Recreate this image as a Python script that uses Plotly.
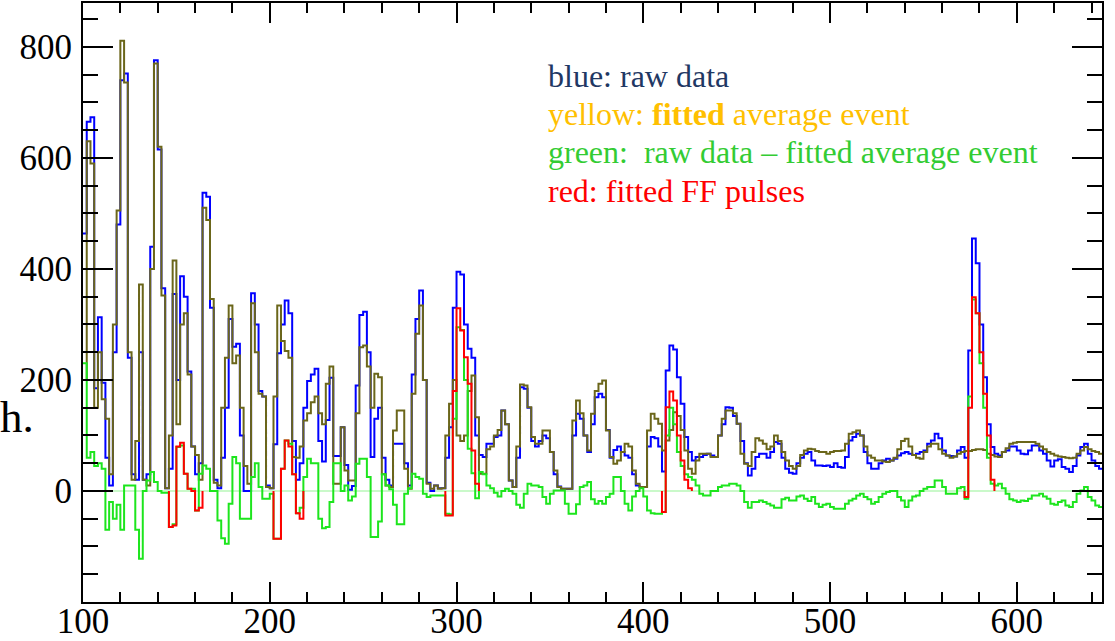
import plotly.graph_objects as go

# ---------------- data (histogram bins, width 2, starting at 100) ----------------
BIN_START = 100
BIN_WIDTH = 2

raw_blue = [
    464, 665, 673, 185, 313, 195, 60, 10, 250, 480,
    740, 752, 240, 30, 20, 250, 20, 30, 440, 776,
    615, 365, 5, 40, 355, 200, 387, 350, 215, 80,
    30, 50, 537, 530, 330, 20, 5, 60, 150, 310,
    260, 265, 100, 0, 0, 356, 300, 180, 170, 10,
    5, 84, 248, 300, 343, 320, 90, 20, 50, 150,
    198, 210, 220, 90, 53, 128, 204, 63, 63, 115,
    47, 2, 9, 190, 317, 323, 250, 61, 130, 150,
    60, 20, 10, 85, 85, 85, 50, 10, 210, 310,
    361, 200, 15, 0, 10, 5, 5, 60, 115, 330,
    395, 390, 300, 256, 240, 100, 65, 61, 85, 85,
    97, 100, 145, 120, 19, 7, 60, 187, 184, 150,
    90, 80, 90, 100, 95, 70, 30, 8, 4, 4,
    4, 100, 139, 130, 100, 70, 120, 169, 175, 169,
    110, 60, 74, 80, 70, 64, 60, 30, 10, 7,
    7, 80, 97, 95, 80, 35, 217, 262, 255, 205,
    157, 97, 70, 55, 61, 61, 65, 67, 64, 61,
    100, 120, 151, 150, 135, 121, 90, 50, 28, 40,
    61, 67, 67, 60, 70, 88, 85, 60, 40, 33,
    31, 50, 60, 67, 70, 55, 46, 46, 45, 46,
    43, 50, 43, 42, 61, 91, 97, 103, 100, 70,
    50, 40, 40, 50, 55, 58, 55, 58, 64, 68,
    70, 67, 65, 67, 70, 73, 85, 91, 103, 95,
    73, 64, 63, 62, 73, 79, 60, 253, 455, 410,
    300, 205, 120, 79, 67, 64, 70, 73, 80, 80,
    73, 67, 66, 73, 82, 82, 73, 67, 55, 44,
    55, 57, 43, 40, 34, 45, 64, 79, 85, 67,
    55, 45, 40,
]

fitted_avg = [
    200, 630, 590, 150, 250, 165, 130, 30, 300, 505,
    811, 736, 250, 20, 90, 372, 20, 10, 400, 770,
    620, 352, 5, 100, 415, 120, 300, 320, 210, 80,
    65, 20, 510, 488, 346, 15, 10, 150, 240, 334,
    230, 244, 150, 45, 13, 338, 250, 175, 170, 7,
    5, 170, 334, 270, 252, 240, 61, 60, 80, 127,
    140, 160, 170, 140, 120, 193, 224, 13, 13, 115,
    37, 19, 19, 140, 259, 262, 224, 150, 211, 205,
    30, 10, 7, 109, 145, 145, 40, 4, 175, 283,
    334, 200, 13, 4, 10, 4, 5, 100, 157, 200,
    100, 90, 100, 180, 208, 133, 31, 31, 75, 80,
    100, 110, 145, 120, 19, 7, 80, 192, 190, 151,
    97, 85, 85, 109, 109, 70, 37, 7, 4, 4,
    4, 127, 163, 140, 100, 73, 139, 180, 193, 199,
    109, 61, 49, 55, 70, 85, 80, 37, 13, 7,
    7, 109, 139, 130, 121, 73, 91, 110, 142, 135,
    110, 73, 40, 31, 55, 67, 67, 67, 61, 61,
    100, 130, 145, 145, 140, 121, 67, 49, 45, 70,
    95, 91, 85, 75, 80, 100, 90, 70, 55, 45,
    40, 45, 65, 73, 76, 75, 72, 70, 70, 67,
    70, 72, 72, 73, 85, 103, 106, 109, 100, 80,
    64, 60, 55, 55, 53, 52, 55, 60, 75, 90,
    94, 80, 65, 60, 58, 70, 80, 85, 85, 75,
    67, 64, 60, 62, 67, 70, 72, 72, 74, 75,
    75, 74, 67, 65, 62, 61, 70, 77, 85, 87,
    88, 88, 88, 88, 88, 85, 80, 75, 70, 67,
    64, 62, 61, 60, 59, 60, 67, 73, 79, 75,
    72, 70, 67,
]

raw_minus_fit = [
    230, 60, 70, 45, 50, 40, -70, -20, -50, -25,
    -70, 10, 10, 10, -70, -122, 0, 19, 34, 16,
    0, -3, -3, -65, -60, 79, 82, 31, 4, 4,
    -35, 31, 46, 40, 0, 0, -53, -85, -95, -23,
    61, 50, -50, -50, -50, 25, 50, 7, -14, -14,
    -5, -86, -86, 40, 91, 85, 30, -40, -30, 25,
    58, 50, 50, -50, -67, -65, -20, 50, 50, 0,
    10, -17, -10, 49, 58, 58, 25, -83, -83, -55,
    30, 10, 3, -25, -60, -60, -5, 5, 31, 25,
    22, -5, -11, -8, -8, -8, -8, -41, -42, 130,
    295, 290, 200, 76, 32, -13, 34, 30, 10, 5,
    -3, -10, 0, 4, 0, -5, -25, -30, -5, 13,
    10, 10, 7, -11, -23, -5, 1, 1, 1, -23,
    -41, -41, -24, 7, 10, 16, -15, -23, -18, -23,
    -11, -5, 25, 25, 0, -23, -35, -10, 0, 5,
    -10, -35, -40, -41, -41, -38, 100, 150, 120, 70,
    45, 30, 25, 20, 10, -5, -8, -8, 0, 0,
    7, 10, 10, 13, 13, 10, 0, -20, -30, -20,
    -20, -17, -20, -23, -26, -30, -30, -15, -12, -17,
    -17, -10, -8, -14, -18, -11, -23, -29, -25, -23,
    -29, -32, -32, -32, -23, -17, -14, -8, -5, -11,
    -15, -23, -20, -11, -5, -2, 0, 0, -11, -17,
    -29, -17, -10, -8, 0, 4, 7, 7, 19, 19,
    7, -5, -5, -5, 5, 7, -14, 170, 345, 320,
    230, 150, 60, 13, 10, 13, 5, -5, -15, -17,
    -20, -17, -18, -14, -8, -8, -5, -10, -14, -23,
    -25, -20, -17, -26, -29, -20, -5, 1, 7, -11,
    -17, -26, -29,
]

# fitted FF pulses: (first bin, values)
red_pulse_1 = (146, [-65, -62, 80, 87, 31, 4, 0, -35, -30])
red_pulse_2 = (202, [-86, -86, 40, 91, 80, 30, -40, -50])
red_pulse_3 = (294, [-44, -44, 180, 329, 289, 241, 193, 73, 13])
red_pulse_4 = (410, [-38, 151, 179, 163, 100, 55, 20, 5])
red_pulse_5 = (572, [-11, 150, 349, 320, 250, 175, 100, 20])

x_ticks = [100, 200, 300, 400, 500, 600]
y_ticks = [0, 200, 400, 600, 800]

legend_lines = [
    ("blue: raw data", "#1f3864"),
    ("yellow: <b>fitted</b> average event", "#ffc000"),
    ("green:  raw data \u2013 fitted average event", "#33cc33"),
    ("red: fitted FF pulses", "#ff0000"),
]

# ---------------- figure ----------------
FONT = "Liberation Serif"
n = len(raw_blue)
edges = [BIN_START + BIN_WIDTH * i for i in range(n + 1)]


def step(vals):
    return list(vals) + [vals[-1]]


fig = go.Figure()

fig.add_trace(go.Scatter(x=edges, y=step(raw_blue), mode="lines",
                         line=dict(color="#0000ff", width=2, shape="hv")))
fig.add_trace(go.Scatter(x=edges, y=step(fitted_avg), mode="lines",
                         line=dict(color="#6b661a", width=2, shape="hv")))
fig.add_trace(go.Scatter(x=edges, y=step(raw_minus_fit), mode="lines",
                         line=dict(color="#1de51d", width=2, shape="hv")))

for start, vals in [red_pulse_1, red_pulse_2, red_pulse_3, red_pulse_4, red_pulse_5]:
    xs = [start] + [start + BIN_WIDTH * i for i in range(len(vals))] + [start + BIN_WIDTH * len(vals)]
    ys = [0] + list(vals) + [0]
    fig.add_trace(go.Scatter(x=xs, y=ys, mode="lines",
                             line=dict(color="#ff0000", width=2, shape="hv")))

# zero line
fig.add_shape(type="line", xref="paper", x0=0, x1=1, yref="y", y0=0, y1=0,
              line=dict(color="#b9f7b9", width=1.5), layer="below")

L, R, T, B = 83, 13, 3, 39
W, H = 1115, 641
pw, ph = W - L - R, H - T - B


def px_x(px):
    return (px - L) / pw


def px_y(py):
    return (H - B - py) / ph


for i, (txt, col) in enumerate(legend_lines):
    fig.add_annotation(text=txt, xref="paper", yref="paper",
                       x=px_x(546), y=px_y(76 + 38.2 * i),
                       xanchor="left", yanchor="middle", showarrow=False,
                       font=dict(family=FONT, size=32, color=col))

fig.add_annotation(text="h.", xref="paper", yref="paper",
                   x=px_x(-2), y=px_y(417), xanchor="left", yanchor="middle",
                   showarrow=False, font=dict(family=FONT, size=45, color="black"))

axis_common = dict(showline=True, linecolor="black", linewidth=2, mirror="allticks",
                   ticks="inside", tickcolor="black", tickwidth=2,
                   showgrid=False, zeroline=False,
                   tickfont=dict(family=FONT, size=35, color="black"))

fig.update_xaxes(range=[100, 645.6], tickvals=x_ticks, ticklen=20,
                 ticklabelstandoff=-13,
                 minor=dict(dtick=20, tick0=0, ticks="inside", ticklen=10,
                            tickwidth=2, tickcolor="black"),
                 **axis_common)
fig.update_yaxes(range=[-200, 879], tickvals=y_ticks, ticklen=30,
                 ticklabelstandoff=2,
                 minor=dict(dtick=50, tick0=0, ticks="inside", ticklen=15,
                            tickwidth=2, tickcolor="black"),
                 **axis_common)

fig.update_layout(width=W, height=H, margin=dict(l=L, r=R, t=T, b=B, autoexpand=False),
                  paper_bgcolor="white", plot_bgcolor="white", showlegend=False,
                  hovermode=False)

fig.write_html("out.html", config={"displayModeBar": False})
